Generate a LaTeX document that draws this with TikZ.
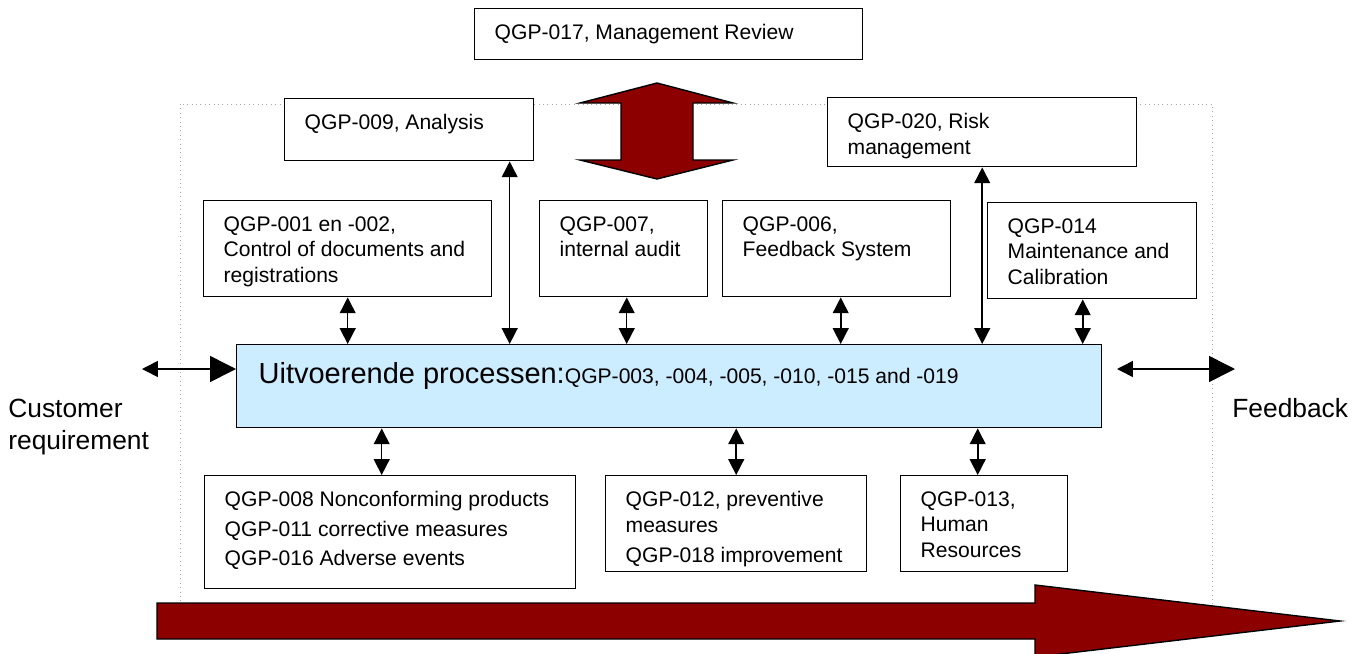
\documentclass[tikz,border=0pt]{standalone}
\usepackage{fontspec}
\setmainfont{Liberation Sans}
\usetikzlibrary{arrows.meta}
\definecolor{qred}{RGB}{140,0,0}
\definecolor{qblue}{RGB}{204,236,255}
\newlength{\pxu}\setlength{\pxu}{0.02cm}
\newcommand{\qgp}[3]{\parbox[t][\dimexpr#2\pxu-32\pxu\relax][t]{#1\pxu}{\raggedright\leftskip=20\pxu\relax #3}}
\tikzset{
  qbox/.style={draw, line width=0.8pt, fill=white, anchor=north west, inner xsep=0pt, inner ysep=0.32cm, font=\fontsize{12}{14.4}\selectfont},
  sidetxt/.style={inner sep=0pt, align=left, font=\fontsize{15}{18}\selectfont},
  dblarr/.style={line width=0.9pt, {Triangle[length=9pt,width=9pt]}-{Triangle[length=9pt,width=9pt]}},
  sidearr/.style={line width=0.9pt, {Triangle[length=9pt,width=9pt]}-{Triangle[length=14.7pt,width=14.7pt]}},
  bigarr/.style={draw, line width=0.8pt, fill=qred}
}
\begin{document}
\begin{tikzpicture}[x=0.02cm, y=-0.02cm]
\useasboundingbox (0,0) rectangle (1363,653);
\draw[dotted, gray!70, line width=0.5pt] (180,104) rectangle (1212,620);
\draw[bigarr] (657,83) -- (733,103) -- (693,103) -- (693,160) -- (733,160) -- (657,179) -- (580,160) -- (621,160) -- (621,103) -- (580,103) -- cycle;
\draw[bigarr] (157,603) -- (1035,603) -- (1035,585) -- (1340,621) -- (1035,657) -- (1035,639) -- (157,639) -- cycle;

\node[qbox] (mgmt) at (474,8) {\qgp{388}{51}{QGP-017, Management Review}};
\node[qbox] (ana) at (284,98) {\qgp{249}{62}{QGP-009, Analysis}};
\node[qbox] (risk) at (827,97) {\qgp{309}{69}{QGP-020, Risk\\management}};
\node[qbox] (doc) at (203,200) {\qgp{288}{96}{QGP-001 en -002,\\Control of documents and\\registrations}};
\node[qbox] (audit) at (539,200) {\qgp{168}{96}{QGP-007,\\internal audit}};
\node[qbox] (fbs) at (722,200) {\qgp{228}{96}{QGP-006,\\Feedback System}};
\node[qbox] (maint) at (987,202) {\qgp{209}{96}{QGP-014\\Maintenance and\\Calibration}};
\node[qbox, fill=qblue, inner ysep=0.36cm] (proc) at (236,344) {\parbox[t][47\pxu][t]{865\pxu}{\leftskip=22\pxu\relax{\fontsize{16.5}{19}\selectfont Uitvoerende processen:}QGP-003, -004, -005, -010, -015 and -019}};
\node[qbox, font=\fontsize{12}{16.7}\selectfont] (nonc) at (204,475) {\qgp{371}{113}{QGP-008 Nonconforming products\\QGP-011 corrective measures\\QGP-016 Adverse events}};
\node[qbox] (prev) at (605,475) {\qgp{261}{96}{QGP-012, preventive\\measures\\[2.7pt]QGP-018 improvement}};
\node[qbox] (hr) at (900,475) {\qgp{167}{96}{QGP-013,\\Human\\Resources}};
\node[sidetxt, anchor=west] (cust) at (8,427) {Customer\\requirement};
\node[sidetxt, anchor=west] (fdb) at (1232,408) {Feedback};

\draw[dblarr] ([xshift=2.01cm]ana.south) -- ([xshift=2.01cm]ana.south |- proc.north);
\draw[dblarr] (risk.south) -- (risk.south |- proc.north);
\draw[dblarr] (doc.south) -- (doc.south |- proc.north);
\draw[dblarr] ([xshift=0.06cm]audit.south) -- ([xshift=0.06cm]audit.south |- proc.north);
\draw[dblarr] ([xshift=0.08cm]fbs.south) -- ([xshift=0.08cm]fbs.south |- proc.north);
\draw[dblarr] ([xshift=-0.19cm]maint.south) -- ([xshift=-0.19cm]maint.south |- proc.north);
\draw[dblarr] ([xshift=-0.17cm]nonc.north |- proc.south) -- ([xshift=-0.17cm]nonc.north);
\draw[dblarr] (prev.north |- proc.south) -- (prev.north);
\draw[dblarr] ([xshift=-0.13cm]hr.north |- proc.south) -- ([xshift=-0.13cm]hr.north);

\coordinate (cin) at (142,369);
\coordinate (fbl) at (1117,369);
\coordinate (fbr) at (1235,369);
\draw[sidearr] (cin) -- (cin -| proc.west);
\draw[sidearr] (fbl) -- (fbr);
\end{tikzpicture}
\end{document}
